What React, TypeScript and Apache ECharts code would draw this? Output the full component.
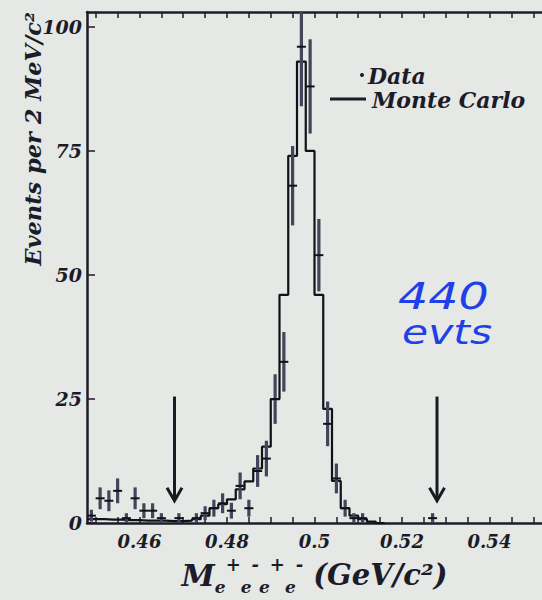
import React, { useEffect, useRef } from 'react';
import * as echarts from 'echarts';

// Monte Carlo histogram: left bin edges (GeV/c^2) and counts per 2 MeV bin
const mcEdges = [0.448, 0.450, 0.452, 0.454, 0.456, 0.458, 0.460, 0.462, 0.464, 0.466, 0.468, 0.470, 0.472, 0.474, 0.476, 0.478, 0.480, 0.482, 0.484, 0.486, 0.488, 0.490, 0.492, 0.494, 0.496, 0.498, 0.500, 0.502, 0.504, 0.506, 0.508, 0.510, 0.512, 0.514, 0.516];
const mcCounts = [0.8, 0.8, 0.7, 0.7, 0.6, 0.6, 0.5, 0.5, 0.5, 0.4, 0.4, 0.5, 0.8, 1.5, 3, 3.8, 4.8, 6.8, 8.4, 11, 15.4, 25, 46, 74, 93, 75, 46, 23, 8.5, 3, 1.5, 0.8, 0.3, 0, 0];

// Data points: bin centres, counts, errors
const dataX = [0.449, 0.451, 0.453, 0.455, 0.457, 0.459, 0.461, 0.463, 0.465, 0.469, 0.473, 0.475, 0.477, 0.479, 0.481, 0.483, 0.485, 0.487, 0.489, 0.491, 0.493, 0.495, 0.497, 0.499, 0.501, 0.503, 0.505, 0.507, 0.509, 0.511, 0.527];
const dataY = [1.5, 5, 4.5, 6.5, 1, 5, 2.5, 2.5, 1, 1, 1, 2, 3, 4, 2.5, 7.5, 3, 10.5, 13, 25, 32.5, 68, 96, 88, 54, 20, 9, 3, 1, 1, 1];
const dataErr = [1.2, 2.2, 2.1, 2.5, 1, 2.2, 1.5, 1.5, 1, 1, 1, 1.4, 1.7, 2, 1.6, 2.7, 1.7, 3.2, 3.6, 5, 6, 8, 12, 9.5, 7.3, 4.5, 3, 1.7, 1, 1, 1];

// Signal window arrows: x position, top and tip values
const arrowX = [0.468, 0.528];
const arrowTop = [25.5, 25.5];
const arrowTip = [4.5, 4.5];

// Axis ticks and labels
const xTickValues = [0.45, 0.455, 0.46, 0.465, 0.47, 0.475, 0.48, 0.485, 0.49, 0.495, 0.5, 0.505, 0.51, 0.515, 0.52, 0.525, 0.53, 0.535, 0.54, 0.545, 0.55];
const xLabelValues = [0.46, 0.48, 0.5, 0.52, 0.54];
const xMin = 0.448;
const xMax = 0.552;
const yMin = 0;
const yMax = 103;
const yInterval = 25;

const FONT = 'DejaVu Serif';
const INK = '#1c1c28';

export default function App() {
  const ref = useRef<HTMLDivElement>(null);
  useEffect(() => {
    if (!ref.current) return;
    const chart = echarts.init(ref.current, undefined, { renderer: 'svg' });
    const txt = (size: number) => ({
      fontFamily: FONT, fontStyle: 'italic' as const, fontWeight: 'bold' as const, fontSize: size, color: INK,
    });
    const option: any = {
      animation: false,
      backgroundColor: '#e5e8e5',
      grid: { left: 87, right: -3, top: 12, bottom: 73 },
      xAxis: [
        {
          type: 'value', min: xMin, max: xMax, position: 'bottom',
          axisLine: { show: true, onZero: false, lineStyle: { color: INK, width: 2.5 } },
          axisTick: { show: true, inside: true, length: 6, customValues: xTickValues, lineStyle: { color: INK, width: 1.5 } },
          axisLabel: { customValues: xLabelValues, margin: 9, ...txt(18) },
          splitLine: { show: false },
          name: '{m|M}{s|e}{p|+}{s|e}{p|-}{s|e}{p|+}{s|e}{p|-}{u| (GeV/c²)}',
          nameLocation: 'middle', nameGap: 27,
          nameTextStyle: {
            rich: {
              m: { ...txt(30), lineHeight: 40 },
              s: { ...txt(17), lineHeight: 17, verticalAlign: 'bottom' },
              p: { ...txt(18), lineHeight: 38, verticalAlign: 'top' },
              u: { ...txt(29), lineHeight: 40 },
            },
          },
        },
        {
          type: 'value', min: xMin, max: xMax, position: 'top',
          axisLine: { show: true, onZero: false, lineStyle: { color: INK, width: 2.5 } },
          axisTick: { show: true, inside: true, length: 6, customValues: xTickValues, lineStyle: { color: INK, width: 1.5 } },
          axisLabel: { show: false },
          splitLine: { show: false },
        },
      ],
      yAxis: {
        type: 'value', min: yMin, max: yMax, interval: yInterval,
        axisLine: { show: true, lineStyle: { color: INK, width: 2.5 } },
        axisTick: { show: true, inside: true, length: 8, lineStyle: { color: INK, width: 1.5 } },
        axisLabel: { margin: 5, ...txt(19) },
        splitLine: { show: false },
      },
      series: [
        {
          name: 'Monte Carlo', type: 'line', step: 'end', symbol: 'none', clip: true,
          data: mcEdges.map((x, i) => [x, mcCounts[i]]),
          lineStyle: { color: '#111118', width: 2.2 },
          z: 2,
        },
        {
          name: 'Data', type: 'custom', clip: true, z: 3,
          data: dataX.map((x, i) => [x, dataY[i], dataErr[i]]),
          renderItem: (params: any, api: any) => {
            const x = api.value(0);
            const y = api.value(1);
            const e = api.value(2);
            const c = api.coord([x, y]);
            const lo = api.coord([x, y - e]);
            const hi = api.coord([x, y + e]);
            return {
              type: 'group',
              children: [
                { type: 'line', shape: { x1: c[0], y1: lo[1], x2: c[0], y2: hi[1] }, style: { stroke: '#44445a', lineWidth: 3.2 } },
                { type: 'line', shape: { x1: c[0] - 4.5, y1: c[1], x2: c[0] + 4.5, y2: c[1] }, style: { stroke: '#111118', lineWidth: 2 } },
              ],
            };
          },
        },
        {
          name: 'Arrows', type: 'custom', clip: false, z: 4,
          data: arrowX.map((x, i) => [x, arrowTop[i], arrowTip[i]]),
          renderItem: (params: any, api: any) => {
            const x = api.value(0);
            const top = api.coord([x, api.value(1)]);
            const tip = api.coord([x, api.value(2)]);
            return {
              type: 'group',
              children: [
                { type: 'line', shape: { x1: top[0], y1: top[1], x2: tip[0], y2: tip[1] - 1 }, style: { stroke: '#1a1a22', lineWidth: 3 } },
                { type: 'polyline', shape: { points: [[tip[0] - 7.5, tip[1] - 13], [tip[0], tip[1]], [tip[0] + 7.5, tip[1] - 13]] }, style: { stroke: '#1a1a22', lineWidth: 3, fill: null } },
              ],
            };
          },
        },
      ],
      graphic: [
        {
          type: 'text', x: 33, y: 139, rotation: Math.PI / 2,
          style: { text: 'Events per 2 MeV/c²', ...txt(22.5), fill: INK, textAlign: 'center', textVerticalAlign: 'middle' },
        },
        { type: 'circle', shape: { cx: 362, cy: 75, r: 2 }, style: { fill: INK } },
        { type: 'text', x: 368, y: 76, style: { text: 'Data', ...txt(22), fill: INK, textAlign: 'left', textVerticalAlign: 'middle' } },
        { type: 'line', shape: { x1: 330, y1: 99, x2: 366, y2: 99 }, style: { stroke: INK, lineWidth: 3 } },
        { type: 'text', x: 372, y: 100, style: { text: 'Monte Carlo', ...txt(22), fill: INK, textAlign: 'left', textVerticalAlign: 'middle' } },
        {
          type: 'text', x: 398, y: 296, scaleX: 1.25,
          style: { text: '440', fontFamily: 'DejaVu Sans', fontStyle: 'italic', fontSize: 38, fill: '#1e40e6', textAlign: 'left', textVerticalAlign: 'middle' },
        },
        {
          type: 'text', x: 402, y: 332, scaleX: 1.25,
          style: { text: 'evts', fontFamily: 'DejaVu Sans', fontStyle: 'italic', fontSize: 34, fill: '#1e40e6', textAlign: 'left', textVerticalAlign: 'middle' },
        },
      ],
    };
    chart.setOption(option);
    return () => chart.dispose();
  }, []);
  return <div ref={ref} style={{ position: 'fixed', left: 0, top: 0, width: 542, height: 600 }} />;
}
